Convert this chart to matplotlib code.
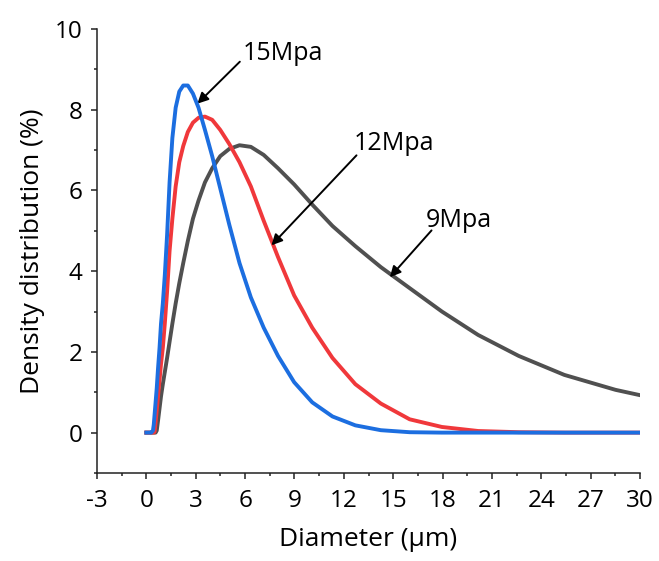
import matplotlib
matplotlib.use("Agg")
import matplotlib.pyplot as plt
from matplotlib.ticker import MultipleLocator

plt.rcParams['font.family'] = ['Open Sans', 'DejaVu Sans']
plt.rcParams['axes.unicode_minus'] = False

diameter = [0.1, 0.2, 0.3, 0.40, 0.45, 0.50, 0.56, 0.63, 0.71, 0.80, 0.89, 1.00,
            1.12, 1.26, 1.41, 1.58, 1.78, 2.00, 2.24, 2.52, 2.83, 3.17, 3.56,
            4.00, 4.49, 5.04, 5.66, 6.35, 7.13, 8.00, 8.98, 10.08, 11.31, 12.70,
            14.25, 16.00, 17.96, 20.16, 22.63, 25.40, 28.51, 32.00]

mpa9 = [0, 0, 0, 0, 0, 0, 0, 0.05, 0.3, 0.6, 0.9, 1.2,
        1.5, 1.85, 2.25, 2.7, 3.2, 3.7, 4.2, 4.75, 5.3, 5.75, 6.2,
        6.55, 6.85, 7.03, 7.12, 7.08, 6.88, 6.55, 6.15, 5.65, 5.12, 4.62,
        4.1, 3.58, 3.0, 2.42, 1.9, 1.43, 1.06, 0.75]

mpa12 = [0, 0, 0, 0, 0, 0.02, 0.25, 0.55, 0.9, 1.3, 1.7, 2.1,
         2.7, 3.5, 4.5, 5.3, 6.1, 6.7, 7.1, 7.45, 7.68, 7.8, 7.83,
         7.75, 7.5, 7.15, 6.7, 6.1, 5.25, 4.35, 3.4, 2.6, 1.85, 1.2,
         0.72, 0.33, 0.14, 0.04, 0.01, 0, 0, 0]

mpa15 = [0, 0, 0, 0.05, 0.2, 0.45, 0.75, 1.1, 1.6, 2.1, 2.7, 3.2,
         3.9, 4.9, 6.2, 7.3, 8.05, 8.45, 8.6, 8.6, 8.4, 8.05, 7.5,
         6.85, 6.05, 5.15, 4.2, 3.35, 2.6, 1.9, 1.25, 0.75, 0.4, 0.18,
         0.06, 0.01, 0, 0, 0, 0, 0, 0]

labels = ["9Mpa", "12Mpa", "15Mpa"]

fig = plt.figure(figsize=(6.59, 5.61), dpi=100)
ax = fig.add_axes([0.1472, 0.1569, 0.824, 0.7914])

ax.plot([0.0] + diameter, [0] + mpa9, color='#505050', lw=2.8, solid_joinstyle='round', zorder=2)
ax.plot([0.0] + diameter, [0] + mpa12, color='#F0383B', lw=2.8, solid_joinstyle='round', zorder=3)
ax.plot([0.0] + diameter, [0] + mpa15, color='#1C6EE0', lw=2.8, solid_joinstyle='round', zorder=4)

ax.set_xlim(-3, 30)
ax.set_ylim(-1, 10)
ax.xaxis.set_major_locator(MultipleLocator(3))
ax.xaxis.set_minor_locator(MultipleLocator(1.5))
ax.yaxis.set_minor_locator(MultipleLocator(1))
ax.set_yticks([0, 2, 4, 6, 8, 10])

for s in ['top', 'right']:
    ax.spines[s].set_visible(False)
for s in ['left', 'bottom']:
    ax.spines[s].set_linewidth(1.1)
    ax.spines[s].set_color('#222222')

ax.tick_params(which='major', direction='out', length=4.5, width=1.1, labelsize=17.5, colors='#222222', labelcolor='black')
ax.tick_params(axis='x', which='major', pad=7)
ax.tick_params(axis='y', which='major', pad=6)
ax.tick_params(which='minor', direction='out', length=2.5, width=1.1, colors='#222222')

ax.set_xlabel("Diameter (μm)", fontsize=19, labelpad=10)
ax.set_ylabel("Density distribution (%)", fontsize=19, labelpad=7)

ap = dict(arrowstyle='-|>', mutation_scale=16, lw=1.4, color='black', shrinkA=0, shrinkB=0)
ax.annotate("", xy=(3.1, 8.15), xytext=(5.68, 9.19), arrowprops=ap)
ax.text(5.85, 9.22, labels[2], fontsize=18, ha='left', va='baseline')
ax.annotate("", xy=(7.6, 4.64), xytext=(12.77, 6.87), arrowprops=ap)
ax.text(12.6, 7.0, labels[1], fontsize=18, ha='left', va='baseline')
ax.annotate("", xy=(14.8, 3.85), xytext=(17.33, 5.01), arrowprops=ap)
ax.text(16.95, 5.09, labels[0], fontsize=18, ha='left', va='baseline')

fig.savefig("out.png", dpi=100)
